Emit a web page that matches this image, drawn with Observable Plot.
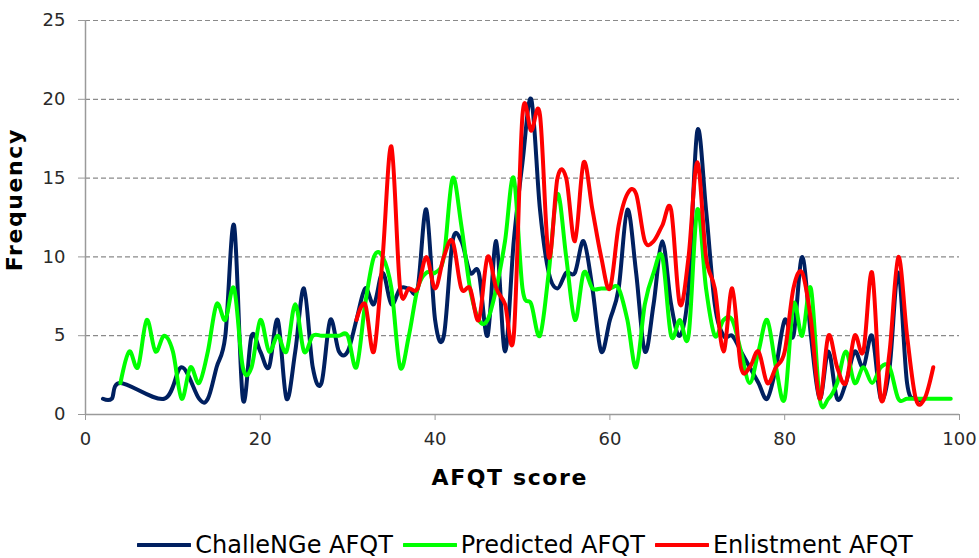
<!DOCTYPE html>
<html>
<head>
<meta charset="utf-8">
<script src="https://cdn.jsdelivr.net/npm/d3@7"></script>
<script src="https://cdn.jsdelivr.net/npm/@observablehq/plot@0.6"></script>
<style>
  html, body { margin: 0; padding: 0; background: #fff; }
  #wrap { width: 979px; height: 558px; overflow: hidden; font-family: "DejaVu Sans", sans-serif; }
  #legend { display: flex; justify-content: center; align-items: center; margin-left: 88px; width: 874px; margin-top: 26px; font-size: 24px; color: #000; }
  .item { display: flex; align-items: center; margin: 0 5px; }
  .item svg { margin-right: 4px; }
</style>
</head>
<body>
<div id="wrap">
  <div id="chart"></div>
  <div id="legend"></div>
</div>
<script>
// ---- data ----
const seriesNames = ["ChalleNGe AFQT", "Predicted AFQT", "Enlistment AFQT"];
const seriesColors = ["#002060", "#00FF00", "#FF0000"];

const challengeScore = [2,3,4,9,11,13,14,15,16,17,18,19,20,21,22,23,24,25,26,27,28,29,30,31,32,33,34,35,36,37,38,39,40,41,42,43,44,45,46,47,48,49,50,51,52,53,54,55,56,57,58,59,60,61,62,63,64,65,66,67,68,69,70,71,72,73,74,75,76,77,78,79,80,81,82,83,84,85,86,87,88,89,90,91,92,93,94,95,96];
const challengeFreq  = [1,1,2,1,3,1,1,3,5,12,1,5,4,3,6,1,4,8,3,2,6,4,4,6,8,7,9,7,8,8,8,13,6,5,11,11,9,9,5,11,4,11,16,20,13,9,8,9,9,11,8,4,6,8,13,9,4,7,11,7,5,8,18,13,7,5,5,4,3,2,1,3,6,5,10,5,1,4,1,2,4,3,5,1,3,9,2,1,1];

const predictedScore = [4,5,6,7,8,9,10,11,12,13,14,15,16,17,18,19,20,21,22,23,24,25,26,27,28,29,30,31,32,33,34,35,36,37,38,39,40,41,42,43,44,45,46,47,48,49,50,51,52,53,54,55,56,57,58,59,60,61,62,63,64,65,66,67,68,69,70,71,72,73,74,75,76,77,78,79,80,81,82,83,84,85,86,87,88,89,90,91,92,93,94,95,96,97,98,99];
const predictedFreq  = [2,4,3,6,4,5,4,1,3,2,4,7,6,8,3,3,6,4,5,4,7,4,5,5,5,5,5,3,7,10,10,8,3,5,8,9,9,10,15,12,8,6,6,8,11,15,8,7,5,9,14,10,6,9,8,8,8,8,6,3,7,9,10,5,6,5,13,8,5,6,6,4,2,4,6,3,1,7,5,8,1,1,2,4,2,3,2,3,3,1,1,1,1,1,1,1];

const enlistScore = [31,32,33,34,35,36,37,38,39,40,41,42,43,44,45,46,47,48,49,50,51,52,53,54,55,56,57,58,59,60,61,62,63,64,65,66,67,68,69,70,71,72,73,74,75,76,77,78,79,80,81,82,83,84,85,86,87,88,89,90,91,92,93,94,95,96,97];
const enlistFreq  = [6,7,4,10,17,8,8,8,10,8,10,11,8,8,6,10,8,7,5,19,18,19,10,15,15,11,16,13,10,8,12,14,14,11,11,12,13,7,10,16,10,8,4,8,3,3,4,2,3,4,8,9,6,1,5,3,2,5,4,9,1,4,10,5,1,1,3];

const xTicks = [0, 20, 40, 60, 80, 100];
const yTicks = [0, 5, 10, 15, 20, 25];
const gridTicks = [5, 10, 15, 20, 25];
const xTitle = "AFQT score";
const yTitle = "Frequency";

const toRows = (scores, freqs, name) => scores.map((s, i) => ({score: s, freq: freqs[i], series: name}));
const seriesData = [
  toRows(challengeScore, challengeFreq, seriesNames[0]),
  toRows(predictedScore, predictedFreq, seriesNames[1]),
  toRows(enlistScore, enlistFreq, seriesNames[2])
];

const chart = Plot.plot({
  width: 979,
  height: 505,
  marginLeft: 85,
  marginRight: 20,
  marginTop: 20,
  marginBottom: 91,
  style: {fontFamily: "DejaVu Sans, sans-serif", fontSize: "18px", color: "#000", background: "#fff", overflow: "visible"},
  x: {domain: [0, 100], label: null},
  y: {domain: [0, 25], label: null},
  marks: [
    Plot.gridY(gridTicks, {stroke: "#8a8a8a", strokeOpacity: 1, strokeWidth: 1.2, strokeDasharray: "5,3"}),
    Plot.ruleY([0], {stroke: "#9a9a9a", strokeWidth: 1.5}),
    Plot.ruleX([0], {stroke: "#9a9a9a", strokeWidth: 1.5}),
    Plot.axisY({ticks: yTicks, tickSize: 7, tickPadding: 13, stroke: "#9a9a9a", strokeOpacity: 1, label: null, fill: "#2a2a2a"}),
    Plot.axisX({ticks: xTicks, tickSize: 6, tickPadding: 12, stroke: "#9a9a9a", strokeOpacity: 1, label: null, fill: "#2a2a2a"}),
    ...seriesData.map((rows, i) => Plot.line(rows, {
      x: "score", y: "freq", stroke: seriesColors[i], strokeWidth: 4,
      curve: "cardinal", tension: 0, strokeLinejoin: "round", strokeLinecap: "round"
    }))
  ]
});
document.getElementById("chart").appendChild(chart);

// axis titles
const svg = d3.select(chart);
const xs = chart.scale("x"), ys = chart.scale("y");
svg.append("text")
  .attr("transform", `translate(${xs.apply(0) - 63},${ys.apply(13.6)}) rotate(-90)`)
  .attr("text-anchor", "middle")
  .attr("font-weight", "bold").attr("font-size", 22).attr("letter-spacing", 1.6)
  .attr("fill", "#000").text(yTitle);
svg.append("text")
  .attr("x", xs.apply(48.6)).attr("y", ys.apply(0) + 71)
  .attr("text-anchor", "middle")
  .attr("font-weight", "bold").attr("font-size", 22).attr("letter-spacing", 1.6)
  .attr("fill", "#000").text(xTitle);

// legend
const legend = d3.select("#legend");
seriesNames.forEach((name, i) => {
  const item = legend.append("div").attr("class", "item");
  const sw = item.append("svg").attr("width", 54).attr("height", 10);
  sw.append("line").attr("x1", 1).attr("x2", 53).attr("y1", 5).attr("y2", 5)
    .attr("stroke", seriesColors[i]).attr("stroke-width", 4).attr("stroke-linecap", "round");
  item.append("span").text(name);
});
</script>
</body>
</html>
